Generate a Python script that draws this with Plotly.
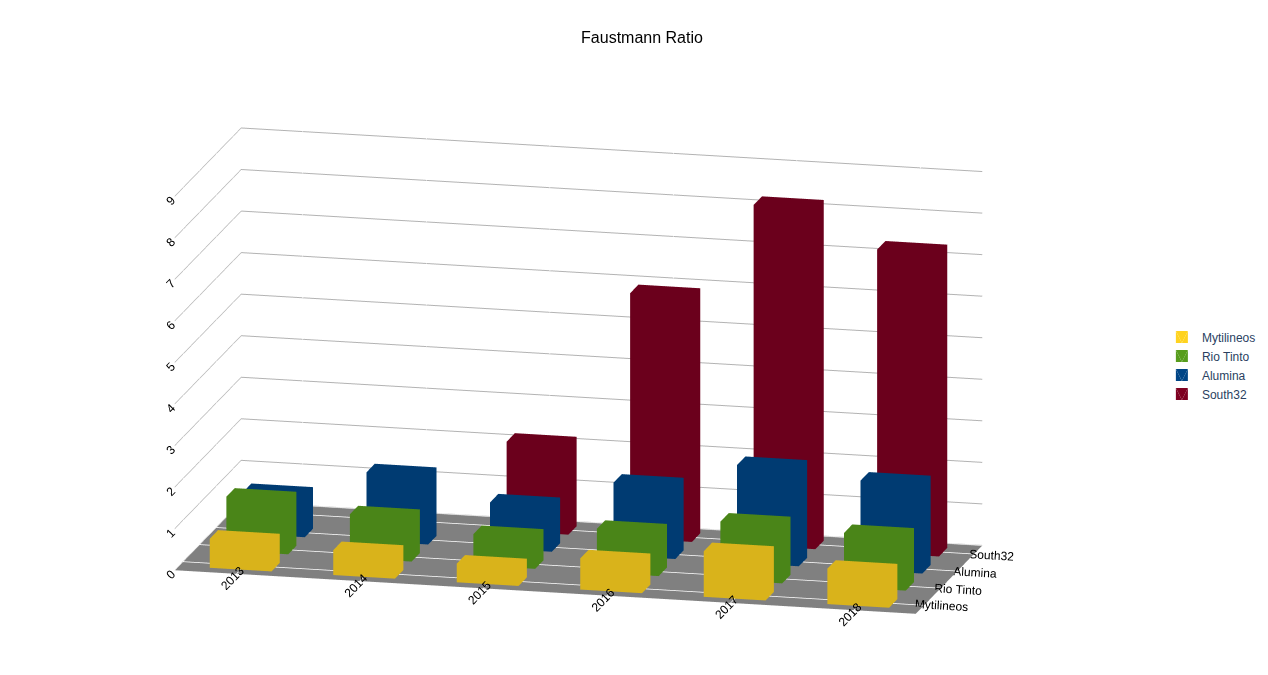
import plotly.graph_objects as go

years = ["2013", "2014", "2015", "2016", "2017", "2018"]
series = ["Mytilineos", "Rio Tinto", "Alumina", "South32"]
mytilineos = [0.7, 0.6, 0.45, 0.75, 1.1, 0.85]
rio_tinto = [1.3, 1.05, 0.75, 1.05, 1.4, 1.3]
alumina = [1.0, 1.65, 1.1, 1.75, 2.35, 2.15]
south32 = [0, 0, 2.15, 5.9, 8.2, 7.3]
colors = ["#ffd320", "#579d1c", "#004586", "#7e0021"]

values = [mytilineos, rio_tinto, alumina, south32]


def boxes(vals, row, w=0.25, d=0.25):
    xs, ys, zs, ii, jj, kk = [], [], [], [], [], []
    faces = [(0, 1, 2), (0, 2, 3), (4, 5, 6), (4, 6, 7), (0, 1, 5), (0, 5, 4),
             (1, 2, 6), (1, 6, 5), (2, 3, 7), (2, 7, 6), (3, 0, 4), (3, 4, 7)]
    for c, v in enumerate(vals):
        if v <= 0:
            continue
        n = len(xs)
        for z in (0, v):
            for dx, dy in ((-w, -d), (w, -d), (w, d), (-w, d)):
                xs.append(c + dx)
                ys.append(row + dy)
                zs.append(z)
        for a, b, e in faces:
            ii.append(n + a)
            jj.append(n + b)
            kk.append(n + e)
    return xs, ys, zs, ii, jj, kk


fig = go.Figure()
for r, (name, vals) in enumerate(zip(series, values)):
    x, y, z, i, j, k = boxes(vals, r)
    fig.add_trace(go.Mesh3d(x=x, y=y, z=z, i=i, j=j, k=k, color=colors[r], name=name,
                            showlegend=True, flatshading=True,
                            lighting=dict(ambient=0.85, diffuse=0.35, specular=0.1),
                            lightposition=dict(x=-1000, y=-3000, z=2000),
                            hoverinfo="name"))

axis_common = dict(showspikes=False, title="", tickfont=dict(family="Liberation Sans", size=12, color="black"))
fig.update_layout(
    width=1268, height=675, paper_bgcolor="white",
    title=dict(text="Faustmann Ratio", x=0.5, y=0.965, xanchor="center",
               font=dict(family="Liberation Sans", size=16, color="black")),
    legend=dict(x=0.91, y=0.5, yanchor="middle", font=dict(family="Liberation Sans", size=12)),
    margin=dict(l=0, r=0, t=40, b=0),
    scene=dict(
        domain=dict(x=[0, 0.9], y=[0, 1]),
        xaxis=dict(tickvals=list(range(6)), ticktext=years, range=[-0.5, 5.5],
                   showbackground=True, backgroundcolor="white", gridcolor="white",
                   showline=False, **axis_common),
        yaxis=dict(tickvals=list(range(4)), ticktext=series, range=[-0.5, 3.5],
                   showbackground=True, backgroundcolor="white", gridcolor="white",
                   **axis_common),
        zaxis=dict(range=[0, 10], tickvals=list(range(10)), showbackground=True,
                   backgroundcolor="#808080", gridcolor="#b3b3b3", **axis_common),
        aspectmode="manual", aspectratio=dict(x=2.4, y=0.9, z=1.35),
        camera=dict(eye=dict(x=0.55, y=-2.3, z=0.55), center=dict(x=0, y=0, z=-0.05),
                    projection=dict(type="orthographic")),
    ),
)
fig.write_html("out.html")
